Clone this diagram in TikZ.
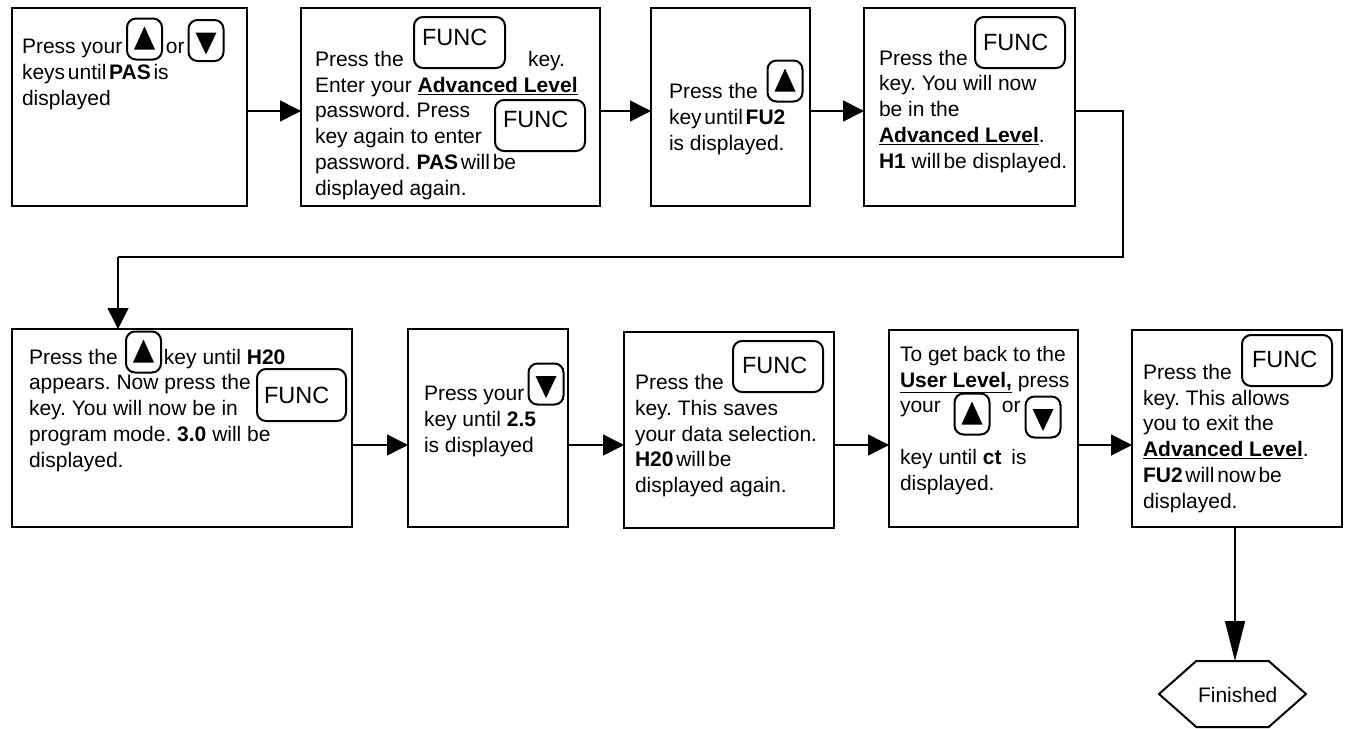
\documentclass[tikz,border=0pt]{standalone}
\usepackage{fontspec}
\setmainfont{Liberation Sans}
\usetikzlibrary{arrows.meta,shapes.symbols}
\newcommand{\tsp}{\hspace{0.13em}}
\tikzset{
  x=1pt,y=-1pt,
  every node/.style={inner sep=0pt,outer sep=0pt},
  stepbox/.style={draw=black,line width=2.4pt,rectangle,fill=white},
  keybox/.style={draw=black,line width=2pt,rectangle,rounded corners=9pt},
  copytext/.style={anchor=base west,align=left,font=\frenchspacing\fontsize{21}{25.7}\selectfont},
  functext/.style={anchor=base west,font=\fontsize{23.5}{26}\selectfont},
  flow/.style={draw=black,line width=1.6pt,-{Triangle[length=21pt,width=21pt]}},
  longflow/.style={draw=black,line width=1.6pt,-{Triangle[length=40pt,width=20pt]}},
  endshape/.style={draw=black,line width=2pt,shape=signal,signal to=east and west,signal pointer angle=83,minimum width=147pt,minimum height=66pt}
}
\newcommand{\upkey}[3]{\node[keybox,minimum width=35pt,minimum height=41pt] (#1) at (#2,#3) {};
  \fill[black] ([shift={(0,-12.5)}]#1.center) -- ++(10.5,23) -- ++(-21,0) -- cycle;}
\newcommand{\downkey}[3]{\node[keybox,minimum width=35pt,minimum height=41pt] (#1) at (#2,#3) {};
  \fill[black] ([shift={(0,14)}]#1.center) -- ++(10.5,-22) -- ++(-21,0) -- cycle;}
\begin{document}
\begin{tikzpicture}
\useasboundingbox (0,0) rectangle (1348,728);
% row 1
\node[stepbox,minimum width=235pt,minimum height=198pt] (b1) at (129.5,107) {};
\node[stepbox,minimum width=299pt,minimum height=198pt] (b2) at (450.5,107) {};
\node[stepbox,minimum width=159pt,minimum height=198pt] (b3) at (730.5,107) {};
\node[stepbox,minimum width=211pt,minimum height=198pt] (b4) at (969.5,107) {};
% row 2
\node[stepbox,minimum width=340pt,minimum height=198pt] (b5) at (182,428) {};
\node[stepbox,minimum width=160pt,minimum height=198pt] (b6) at (488,428) {};
\node[stepbox,minimum width=210pt,minimum height=196pt] (b7) at (729,430) {};
\node[stepbox,minimum width=189pt,minimum height=197pt] (b8) at (983.5,428.5) {};
\node[stepbox,minimum width=210pt,minimum height=197pt] (b9) at (1237,428.5) {};
\node[endshape] (fin) at (1232.5,694) {};
\node[copytext] (fint) at (1198,702) {Finished};
% text
\node[copytext] (t1) at (22,105) {\makebox[144pt][l]{Press your}or\\keys\tsp until\tsp\textbf{PAS}\tsp is\\displayed};
\node[copytext] (t2) at (315,195) {\makebox[213pt][l]{Press the}key.\\Enter your \underline{\textbf{Advanced Level}}\\password. Press\\key again to enter\\password. \textbf{PAS}\tsp will\tsp be\\displayed again.};
\node[copytext] (t3) at (669,150) {Press the\\key\tsp until\tsp\textbf{FU2}\\is displayed.};
\node[copytext] (t4) at (879,168) {Press the\\key. You will now\\be in the\\\underline{\textbf{Advanced Level}}.\\\textbf{H1} will\tsp be displayed.};
\node[copytext] (t5) at (29,467) {\makebox[135pt][l]{Press the}key until \textbf{H20}\\appears. Now press the\\key. You will now be in\\program mode. \textbf{3.0} will be\\displayed.};
\node[copytext] (t6) at (424,452) {Press your\\key until \textbf{2.5}\\is displayed};
\node[copytext] (t7) at (635,492.5) {Press the\\key. This saves\\your data selection.\\\textbf{H20}\tsp will\tsp be\\displayed again.};
\node[copytext] (t8) at (900,490) {To get back to the\\\underline{\textbf{User Level,}} press\\\makebox[102pt][l]{your}or\\ \\key until \textbf{ct}\hspace{4pt} is\\displayed.};
\node[copytext] (t9) at (1143,508) {Press the\\key. This allows\\you to exit the\\\underline{\textbf{Advanced Level}}.\\\textbf{FU2}\tsp will\tsp now\tsp be\\displayed.};
% arrow keys
\upkey{ku1}{144.5}{39}
\downkey{kd1}{206}{40.5}
\upkey{ku3}{785}{81}
\upkey{ku5}{143.5}{352}
\downkey{kd6}{546}{384}
\upkey{ku8}{972}{414}
\downkey{kd8}{1043}{417}
% FUNC keys
\node[keybox,minimum width=91pt,minimum height=51pt] (f2a) at (459.5,42.5) {};
\node[functext] (f2at) at (422,45) {FUNC};
\node[keybox,minimum width=90pt,minimum height=51pt] (f2b) at (540,125.5) {};
\node[functext] (f2bt) at (503,127) {FUNC};
\node[keybox,minimum width=90pt,minimum height=51pt] (f4) at (1020,42.5) {};
\node[functext] (f4t) at (983,50) {FUNC};
\node[keybox,minimum width=89pt,minimum height=52pt] (f5) at (301.5,395) {};
\node[functext] (f5t) at (264,403) {FUNC};
\node[keybox,minimum width=90pt,minimum height=51pt] (f7) at (778,366.5) {};
\node[functext] (f7t) at (742,373) {FUNC};
\node[keybox,minimum width=90pt,minimum height=51pt] (f9) at (1287,360.5) {};
\node[functext] (f9t) at (1252,367) {FUNC};
% connectors
\coordinate (r1) at (0,111);
\coordinate (r2) at (0,445);
\coordinate (c1) at (1123,257);
\coordinate (c2) at (118,257);
\coordinate (d1) at (1235,0);
\draw[flow] (b1.east |- r1) -- (b2.west |- r1);
\draw[flow] (b2.east |- r1) -- (b3.west |- r1);
\draw[flow] (b3.east |- r1) -- (b4.west |- r1);
\draw[draw=black,line width=1.6pt] (b4.east |- r1) -| (c1) -- (c2);
\draw[flow] (c2) -- (c2 |- b5.north);
\draw[flow] (b5.east |- r2) -- (b6.west |- r2);
\draw[flow] (b6.east |- r2) -- (b7.west |- r2);
\draw[flow] (b7.east |- r2) -- (b8.west |- r2);
\draw[flow] (b8.east |- r2) -- (b9.west |- r2);
\draw[longflow] (d1 |- b9.south) -- (d1 |- fin.north);
\end{tikzpicture}
\end{document}
